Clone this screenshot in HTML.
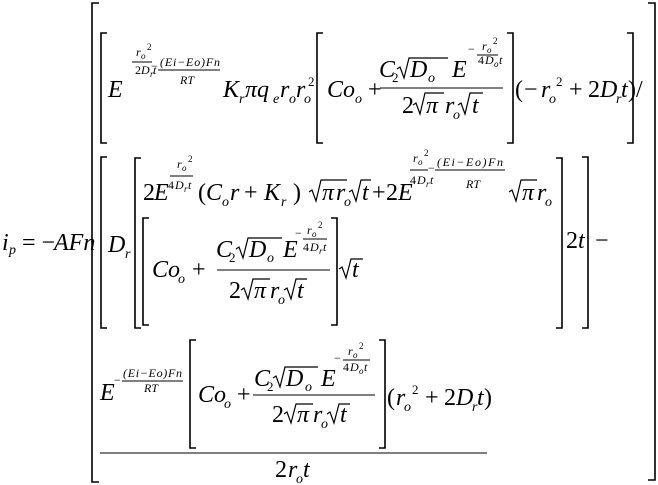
<!DOCTYPE html>
<html><head><meta charset="utf-8"><style>
html,body{margin:0;padding:0;background:#fff;}
svg{display:block;}
text{font-family:"Liberation Serif",serif;fill:#000;}
.m{font-style:italic;font-size:24px;}
.u{font-size:24px;}
.s{font-style:italic;font-size:14px;}
.su{font-size:13px;}
.e{font-style:italic;font-size:12px;}
.eu{font-size:12px;}
.es{font-style:italic;font-size:9px;}
.esu{font-size:9px;}
</style></head><body>
<svg width="658" height="485" viewBox="0 0 658 485" xmlns="http://www.w3.org/2000/svg">
<g fill="none" stroke="#000" stroke-width="1.6">
<path d="M99,3H92V482H99"/><path d="M648,3H655V480H648"/>
<path d="M107,33H101V143H107"/><path d="M627,33H633V143H627"/>
<path d="M323,33H317V143H323"/><path d="M507,33H513V143H507"/>
<path d="M107,157H101V328H107"/><path d="M582,157H588V328H582"/>
<path d="M141,158H135V328H141"/><path d="M556,158H562V328H556"/>
<path d="M149,218H143V325H149"/><path d="M331,218H337V325H331"/>
<path d="M196,340H190V448H196"/><path d="M379,340H385V448H379"/>
</g>
<g fill="none" stroke="#000" stroke-width="1.2" stroke-linejoin="miter">
<!-- radicals: M x,b-8 L x+3,b-10 L x+7,b+1 L x+12,ov H end -->
<path d="M397,69L400,67L404,78L409,58H448"/>
<path d="M413,105L416,103L420,114L425,93H444"/>
<path d="M458,105L461,103L465,114L470,93H483"/>
<path d="M309,192L312,190L316,201L321,180H347"/>
<path d="M349,192L352,190L356,201L361,180H371"/>
<path d="M509,192L512,190L516,201L521,180H537"/>
<path d="M236,249L239,247L243,258L248,238H282"/>
<path d="M241,290L244,288L248,299L253,279H270"/>
<path d="M284,290L287,288L291,299L296,279H307"/>
<path d="M339,269L342,267L346,278L351,259H363"/>
<path d="M273,378L276,376L280,387L285,367H318"/>
<path d="M284,414L287,412L291,423L296,404H313"/>
<path d="M327,414L330,412L334,423L339,404H350"/>
</g>
<g stroke="#000" stroke-width="1">
<line x1="132" y1="62" x2="152" y2="62"/><line x1="158" y1="70" x2="220" y2="70"/>
<line x1="380" y1="88" x2="503" y2="88"/><line x1="477" y1="55" x2="498" y2="55"/>
<line x1="170" y1="176" x2="193" y2="176"/><line x1="410" y1="170" x2="428" y2="170"/><line x1="435" y1="170" x2="505" y2="170"/>
<line x1="217" y1="270" x2="330" y2="270"/><line x1="303" y1="239" x2="327" y2="239"/>
<line x1="122" y1="381" x2="183" y2="381"/>
<line x1="253" y1="395" x2="375" y2="395"/><line x1="343" y1="360" x2="370" y2="360"/>
<line x1="100" y1="453" x2="487" y2="453"/>
</g>

<text class="m" x="2" y="250">i</text><text class="s" x="9" y="254">p</text>
<text class="u" x="22" y="250">= −</text><text class="m" x="54" y="250">AFn</text>

<!-- row 1 -->
<text class="m" x="108" y="97">E</text>
<text class="e" x="136" y="56">r</text><text class="es" x="141" y="59">o</text><text class="esu" x="147" y="50">2</text>
<text class="eu" x="135" y="74">2</text><text class="e" x="141" y="74">D</text><text class="es" x="150" y="77">r</text><text class="e" x="153" y="74">t</text>
<text class="eu" x="151" y="70">−</text>
<text class="e" x="160" y="66" textLength="60">(Ei−Eo)Fn</text>
<text class="e" x="180" y="84">RT</text>
<text class="m" x="223" y="97">K</text><text class="s" x="239" y="103">r</text>
<text class="m" x="245" y="97">πq</text><text class="s" x="273" y="103">e</text>
<text class="m" x="280" y="97">r</text><text class="s" x="289" y="103">o</text>
<text class="m" x="296" y="97">r</text><text class="s" x="304" y="103">o</text><text class="su" x="308" y="86">2</text>
<text class="m" x="327" y="97">Co</text><text class="s" x="355" y="103">o</text>
<text class="u" x="368" y="97">+</text>
<text class="m" x="379" y="77">C</text><text class="su" x="392" y="82">2</text>
<text class="m" x="410" y="77">D</text><text class="s" x="428" y="82">o</text>
<text class="m" x="452" y="77">E</text>
<text class="eu" x="468" y="53">−</text>
<text class="e" x="482" y="50">r</text><text class="es" x="487" y="53">o</text><text class="esu" x="493" y="44">2</text>
<text class="eu" x="478" y="64">4</text><text class="e" x="485" y="64">D</text><text class="es" x="494" y="67">o</text><text class="e" x="499" y="64">t</text>
<text class="u" x="402" y="113">2</text><text class="m" x="426" y="113">π</text>
<text class="m" x="445" y="113">r</text><text class="s" x="453" y="119">o</text>
<text class="m" x="472" y="113">t</text>
<text class="u" x="515" y="97">(</text><text class="u" x="524" y="97">−</text>
<text class="m" x="541" y="97">r</text><text class="s" x="549" y="103">o</text><text class="su" x="556" y="86">2</text>
<text class="u" x="569" y="97">+</text><text class="u" x="588" y="97">2</text><text class="m" x="600" y="97">D</text>
<text class="s" x="616" y="103">r</text><text class="m" x="621" y="97">t</text><text class="u" x="628" y="97">)</text>
<text class="u" x="636" y="97">/</text>

<!-- row 2 -->
<text class="m" x="108" y="252">D</text><text class="s" x="125" y="258">r</text>
<text class="u" x="566" y="248">2</text><text class="m" x="578" y="248">t</text>
<text class="u" x="595" y="248">−</text>
<text class="u" x="143" y="200">2</text><text class="m" x="154" y="200">E</text>
<text class="e" x="177" y="168">r</text><text class="es" x="182" y="171">o</text><text class="esu" x="188" y="162">2</text>
<text class="eu" x="168" y="189">4</text><text class="e" x="175" y="189">D</text><text class="es" x="184" y="192">r</text><text class="e" x="188" y="189">t</text>
<text class="u" x="198" y="200">(</text><text class="m" x="206" y="200">C</text><text class="s" x="222" y="206">o</text>
<text class="m" x="230" y="200">r</text><text class="u" x="244" y="200">+</text>
<text class="m" x="264" y="200">K</text><text class="s" x="281" y="206">r</text><text class="u" x="293" y="200">)</text>
<text class="m" x="322" y="200">π</text><text class="m" x="336" y="200">r</text><text class="s" x="344" y="206">o</text>
<text class="m" x="362" y="200">t</text>
<text class="u" x="372" y="200">+</text><text class="u" x="386" y="200">2</text><text class="m" x="398" y="200">E</text>
<text class="e" x="413" y="162">r</text><text class="es" x="418" y="165">o</text><text class="esu" x="424" y="156">2</text>
<text class="eu" x="410" y="184">4</text><text class="e" x="417" y="184">D</text><text class="es" x="426" y="187">r</text><text class="e" x="430" y="184">t</text>
<text class="eu" x="428" y="172">−</text>
<text class="e" x="437" y="166" textLength="66">(Ei−Eo)Fn</text>
<text class="e" x="466" y="188">RT</text>
<text class="m" x="522" y="200">π</text><text class="m" x="537" y="200">r</text><text class="s" x="545" y="206">o</text>
<text class="m" x="152" y="277">Co</text><text class="s" x="178" y="283">o</text>
<text class="u" x="192" y="277">+</text>
<text class="m" x="216" y="257">C</text><text class="su" x="229" y="262">2</text>
<text class="m" x="249" y="257">D</text><text class="s" x="267" y="262">o</text>
<text class="m" x="283" y="257">E</text>
<text class="eu" x="295" y="237">−</text>
<text class="e" x="307" y="234">r</text><text class="es" x="312" y="237">o</text><text class="esu" x="318" y="228">2</text>
<text class="eu" x="303" y="251">4</text><text class="e" x="310" y="251">D</text><text class="es" x="319" y="254">r</text><text class="e" x="323" y="251">t</text>
<text class="u" x="229" y="298">2</text><text class="m" x="254" y="298">π</text>
<text class="m" x="270" y="298">r</text><text class="s" x="278" y="304">o</text>
<text class="m" x="297" y="298">t</text>
<text class="m" x="352" y="277">t</text>

<!-- row 3 -->
<text class="m" x="100" y="400">E</text>
<text class="eu" x="114" y="384">−</text>
<text class="e" x="123" y="377" textLength="59">(Ei−Eo)Fn</text>
<text class="e" x="144" y="392">RT</text>
<text class="m" x="198" y="402">Co</text><text class="s" x="224" y="408">o</text>
<text class="u" x="237" y="402">+</text>
<text class="m" x="254" y="386">C</text><text class="su" x="267" y="391">2</text>
<text class="m" x="286" y="386">D</text><text class="s" x="305" y="391">o</text>
<text class="m" x="321" y="386">E</text>
<text class="eu" x="334" y="362">−</text>
<text class="e" x="348" y="355">r</text><text class="es" x="353" y="358">o</text><text class="esu" x="359" y="349">2</text>
<text class="eu" x="343" y="371">4</text><text class="e" x="350" y="371">D</text><text class="es" x="359" y="374">o</text><text class="e" x="364" y="371">t</text>
<text class="u" x="272" y="422">2</text><text class="m" x="297" y="422">π</text>
<text class="m" x="313" y="422">r</text><text class="s" x="321" y="428">o</text>
<text class="m" x="340" y="422">t</text>
<text class="u" x="387" y="405">(</text>
<text class="m" x="396" y="405">r</text><text class="s" x="404" y="411">o</text><text class="su" x="412" y="394">2</text>
<text class="u" x="425" y="405">+</text><text class="u" x="444" y="405">2</text><text class="m" x="456" y="405">D</text>
<text class="s" x="472" y="411">r</text><text class="m" x="477" y="405">t</text><text class="u" x="484" y="405">)</text>
<text class="u" x="275" y="477">2</text><text class="m" x="288" y="477">r</text><text class="s" x="296" y="483">o</text><text class="m" x="303" y="477">t</text>
</svg>
</body></html>
